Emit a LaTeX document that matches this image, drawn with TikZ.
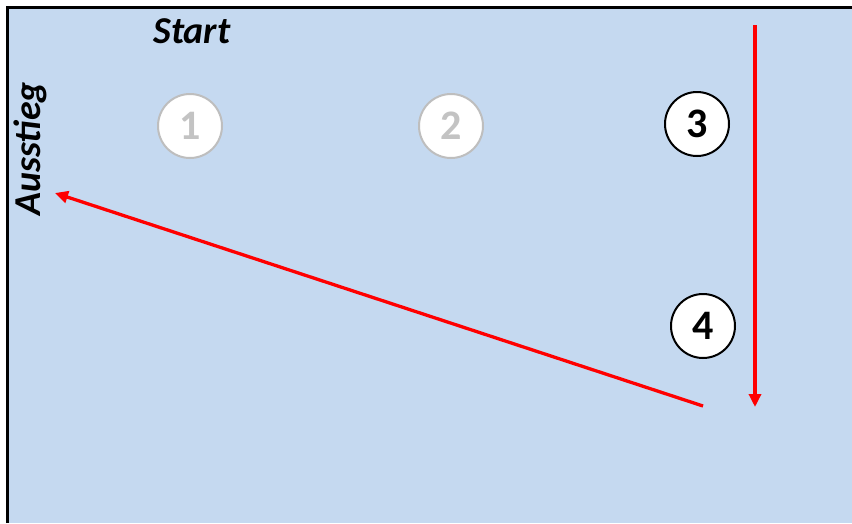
\documentclass[tikz,border=0pt]{standalone}
\usepackage{fontspec}
\setmainfont{Carlito}
\usetikzlibrary{arrows.meta}
\definecolor{bgblue}{RGB}{197,217,240}
\definecolor{lightgray}{RGB}{190,190,190}
\definecolor{lighttext}{RGB}{195,195,195}
\tikzset{
  num/.style={circle, fill=white, minimum size=64pt, inner sep=0pt, line width=2pt,
              font=\fontsize{42}{44}\selectfont\bfseries},
  numon/.style={num, draw=black, text=black},
  numoff/.style={num, draw=lightgray, text=lighttext},
  lbl/.style={font=\fontsize{38}{40}\selectfont\bfseries\itshape},
  redarrow/.style={draw=red, line width=3.3pt, -{Triangle[length=13pt,width=12pt]}}
}
\begin{document}
\begin{tikzpicture}[x=1pt,y=-1pt]
\useasboundingbox (0,0) rectangle (852,523);
\fill[white] (0,0) rectangle (852,523);
\fill[bgblue] (7.5,7.5) rectangle (852,523);
\draw[black, line width=3pt] (7.5,523) -- (7.5,7.5) -- (852,7.5);
\node[lbl] (start) at (192,31) {Start};
\node[lbl, rotate=90] (aus) at (30,149) {Ausstieg};
\node[numoff] (n1) at (190,126) {1};
\node[numoff] (n2) at (451,126) {2};
\node[numon] (n3) at (697,124) {3};
\node[numon] (n4) at (703,326) {4};
\coordinate (vtop) at (755,25);
\coordinate (vend) at (755,407);
\coordinate (dstart) at (703,406);
\coordinate (dend) at (55,193);
\draw[redarrow] (vtop) -- (vend);
\draw[redarrow] (dstart) -- (dend);
\end{tikzpicture}
\end{document}
